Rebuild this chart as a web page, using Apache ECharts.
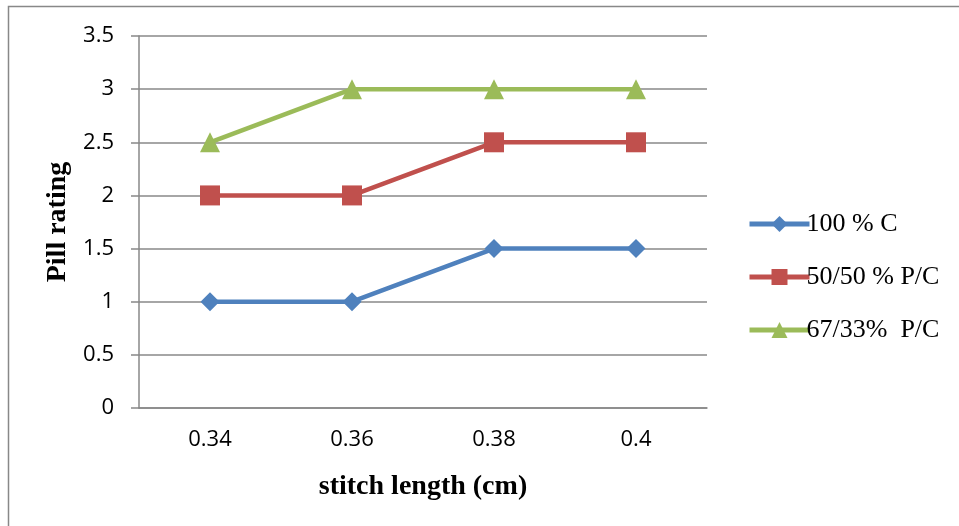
<!DOCTYPE html>
<html>
<head>
<meta charset="utf-8">
<script src="https://cdn.jsdelivr.net/npm/echarts@6/dist/echarts.min.js"></script>
<style>html,body{margin:0;padding:0;background:#fff}#c{width:959px;height:526px}</style>
</head>
<body>
<div id="c"></div>
<script>
var categories = ['0.34', '0.36', '0.38', '0.4'];
var cotton100 = [1, 1, 1.5, 1.5];
var pc5050 = [2, 2, 2.5, 2.5];
var pc6733 = [2.5, 3, 3, 3];
var seriesNames = ['100 % C', '50/50 % P/C', '67/33%  P/C'];

var chart = echarts.init(document.getElementById('c'));
var colors = ['#4F81BD', '#C0504D', '#9BBB59'];
function mk(name, data, symbol, size, color) {
  return {
    name: name, type: 'line', data: data, symbol: symbol, symbolSize: size,
    lineStyle: {width: 4.5, color: color}, itemStyle: {color: color},
    emphasis: {disabled: true}, animation: false
  };
}
chart.setOption({
  animation: false,
  graphic: [{
    type: 'rect', shape: {x: 8.5, y: 6.5, width: 960, height: 530},
    style: {fill: 'none', stroke: '#888', lineWidth: 1.5}, silent: true, z: -1
  }],
  grid: {left: 139, right: 252, top: 36, bottom: 118},
  legend: {
    orient: 'vertical', left: 742, top: 206, itemWidth: 60, itemHeight: 20, itemGap: 27,
    lineStyle: {width: 5},
    textStyle: {fontFamily: 'Liberation Serif', fontSize: 26, color: '#000', padding: [0, 0, 0, -8]},
    data: seriesNames
  },
  xAxis: {
    type: 'category', data: categories, boundaryGap: true,
    name: 'stitch length (cm)', nameLocation: 'middle', nameGap: 65,
    nameTextStyle: {fontFamily: 'Liberation Serif', fontSize: 28, fontWeight: 'bold', color: '#000'},
    axisLine: {lineStyle: {color: '#888', width: 1.5}},
    axisTick: {show: false},
    axisLabel: {fontFamily: 'Open Sans', fontSize: 22, color: '#000', margin: 21}
  },
  yAxis: {
    type: 'value', min: 0, max: 3.5, interval: 0.5,
    name: 'Pill rating', nameLocation: 'middle', nameGap: 63,
    nameTextStyle: {fontFamily: 'Liberation Serif', fontSize: 28, fontWeight: 'bold', color: '#000'},
    axisLine: {show: true, lineStyle: {color: '#888', width: 1.5}},
    axisTick: {show: true, length: 8, lineStyle: {color: '#888', width: 1.5}},
    splitLine: {lineStyle: {color: '#888', width: 1.5}},
    axisLabel: {fontFamily: 'Open Sans', fontSize: 22, color: '#000', margin: 25}
  },
  series: [
    mk(seriesNames[0], cotton100, 'diamond', 19, colors[0]),
    mk(seriesNames[1], pc5050, 'rect', 20, colors[1]),
    mk(seriesNames[2], pc6733, 'triangle', 20, colors[2])
  ]
});
</script>
</body>
</html>
